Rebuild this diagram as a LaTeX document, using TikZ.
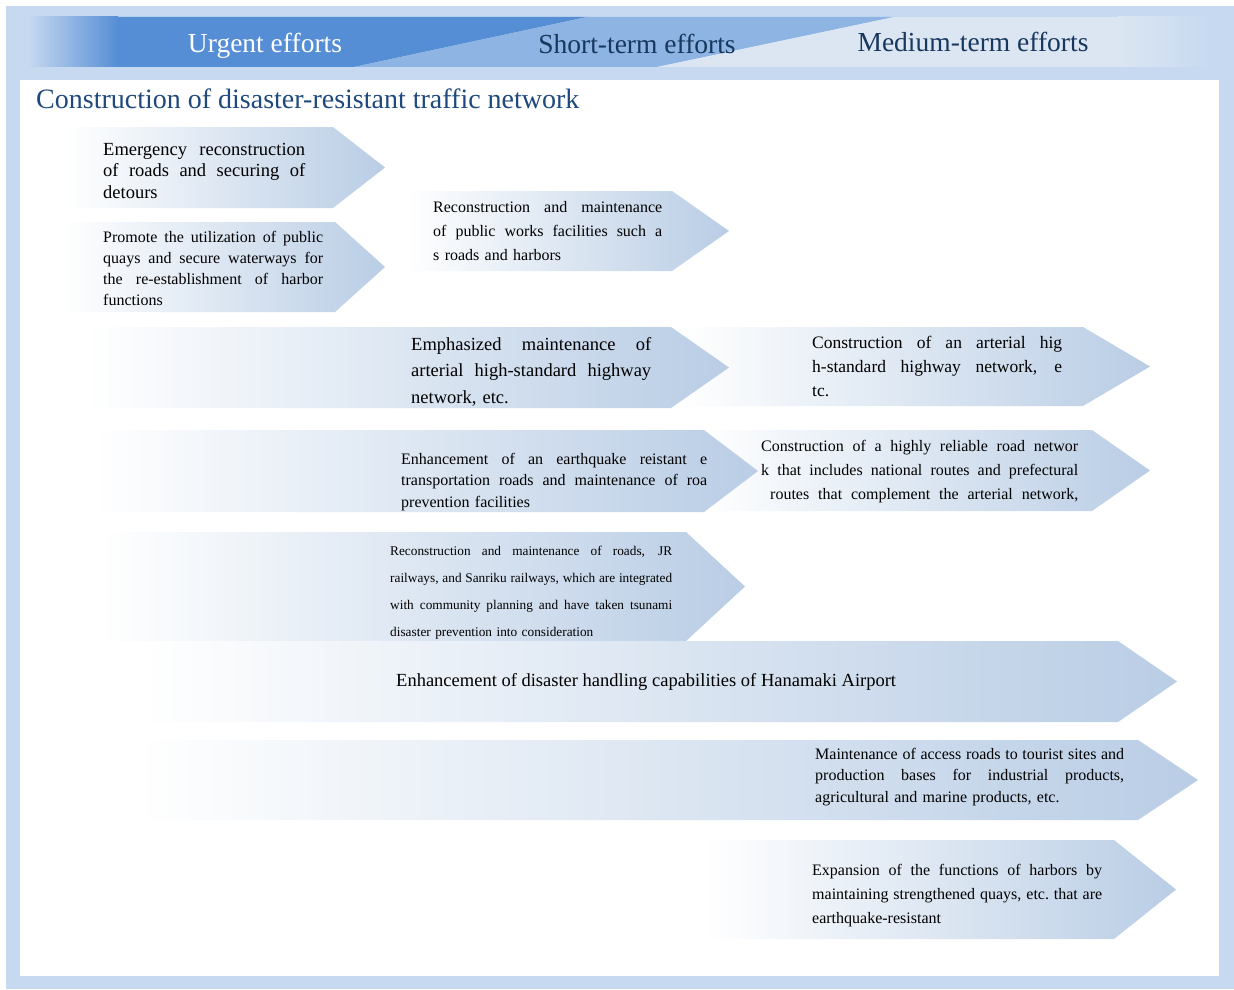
\documentclass[tikz,border=0pt]{standalone}
\usepackage{fontspec}
\setmainfont{Liberation Serif}
\usetikzlibrary{calc}
\definecolor{frameblue}{HTML}{C6D9F1}
\definecolor{headdark}{HTML}{558ED5}
\definecolor{headmid}{HTML}{8DB4E2}
\definecolor{headlight}{HTML}{DCE6F2}
\definecolor{arrowblue}{HTML}{B9CDE5}
\definecolor{titleblue}{HTML}{1F497D}
\definecolor{headtext}{HTML}{17375E}
\newlength\boxw
\def\chevron(#1:#2:#3)(#4:#5){\shade[left color=white, right color=arrowblue] (#1,#4) -- (#2,#4) -- (#3,{(#4+#5)/2}) -- (#2,#5) -- (#1,#5) -- cycle;}
\def\jline#1{\leavevmode\hbox to \boxw{\spaceskip=.25em plus 1fil\xspaceskip=.25em plus 1fil\relax #1}}

\begin{document}
\begin{tikzpicture}[x=1pt, y=-1pt,
	boxtext/.style={anchor=base west, inner sep=0pt, align=left, text=black, text width=#1, execute at begin node={\global\boxw=#1\relax}},
	headfont/.style={anchor=base, inner sep=0pt, font=\fontsize{27.5}{30}\selectfont}]
			%%%%% START %%%%%
			\useasboundingbox (0, 0) rectangle (1234, 990);
			\fill[white] (0, 0) rectangle (1234, 990);
			
			\fill[frameblue] (6, 6) rectangle (1234, 989);
			\fill[white] (20, 80) rectangle (1219, 976);
			
			% header band
			\shade[left color=frameblue, right color=headdark] (28, 17) rectangle (118, 67);
			\fill[headdark] (118, 17) -- (587, 17) -- (354, 67) -- (118, 67) -- cycle;
			\fill[headmid] (587, 17) -- (894, 17) -- (657, 67) -- (354, 67) -- cycle;
			\fill[headlight] (894, 17) -- (1118, 17) -- (1118, 67) -- (657, 67) -- cycle;
			\shade[left color=headlight, right color=frameblue] (1118, 17) rectangle (1212, 67);
			
			\node[headfont, text=white] (urgent) at (265, 53) {Urgent efforts};
			\node[headfont, text=headtext] (shortterm) at (637, 54) {Short-term efforts};
			\node[headfont, text=headtext] (mediumterm) at (973, 52) {Medium-term efforts};
			
			\node[anchor=base west, inner sep=0pt, text=titleblue, font=\fontsize{28}{30}\selectfont] (title) at (36, 108) {Construction of disaster-resistant traffic network};
			
			% urgent
			\chevron(65:333:385)(127:208);
			\node[boxtext=202pt, font=\fontsize{18.5}{21.5}\selectfont] (emergency) at (103, 155) {\jline{Emergency reconstruction}\\\jline{of roads and securing of}\\detours};
			
			\chevron(63:335:385)(222:312);
			\node[boxtext=220pt, font=\fontsize{16}{21.3}\selectfont] (quays) at (103, 242) {\jline{Promote the utilization of public}\\\jline{quays and secure waterways for}\\\jline{the re-establishment of harbor}\\functions};
			
			\chevron(405:672:729)(191:271);
			\node[boxtext=229pt, font=\fontsize{16}{24}\selectfont] (publicworks) at (433, 212) {\jline{Reconstruction and maintenance}\\\jline{of public works facilities such a}\\s roads and harbors};
			
			% short and medium
			\chevron(680:1083:1150)(327:406);
			\node[boxtext=250pt, font=\fontsize{17.5}{24}\selectfont] (highstandard) at (812, 348) {\jline{Construction of an arterial hig}\\\jline{h-standard highway network, e}\\tc.};
			
			\chevron(86:671:729)(327:408);
			\node[boxtext=240pt, font=\fontsize{18.5}{26.5}\selectfont] (arterial) at (411, 350) {\jline{Emphasized maintenance of}\\\jline{arterial high-standard highway}\\network, etc.};
			
			\chevron(700:1092:1150)(430:511);
			\node[boxtext=317pt, font=\fontsize{16}{24}\selectfont] (reliable) at (761, 451) {\jline{Construction of a highly reliable road networ}\\\jline{k that includes national routes and prefectural}\\\jline{\hspace*{9pt}routes that complement the arterial network,}};
			
			\chevron(93:704:758)(430:512);
			\node[boxtext=306pt, font=\fontsize{16}{21.5}\selectfont] (quakeroads) at (401, 464) {\jline{Enhancement of an earthquake reistant e}\\\jline{transportation roads and maintenance of roa}\\prevention facilities};
			
			\chevron(100:686:745)(532:641);
			\node[boxtext=282pt, font=\fontsize{13.3}{27}\selectfont] (railways) at (390, 555) {\jline{Reconstruction and maintenance of roads, JR}\\\jline{railways, and Sanriku railways, which are integrated}\\\jline{with community planning and have taken tsunami}\\disaster prevention into consideration};
			
			\chevron(140:1118:1177)(641:722);
			\node[anchor=base west, inner sep=0pt, font=\fontsize{18.5}{22}\selectfont] (airport) at (396, 686) {Enhancement of disaster handling capabilities of Hanamaki Airport};
			
			\chevron(135:1138:1198)(740:820);
			\node[boxtext=309pt, font=\fontsize{16}{21.5}\selectfont] (access) at (815, 759) {\jline{Maintenance of access roads to tourist sites and}\\\jline{production bases for industrial products,}\\agricultural and marine products, etc.};
			
			\chevron(705:1114:1176)(840:939);
			\node[boxtext=290pt, font=\fontsize{16}{24}\selectfont] (harbors) at (812, 875) {\jline{Expansion of the functions of harbors by}\\\jline{maintaining strengthened quays, etc. that are}\\earthquake-resistant};
			
			%%%%% END %%%%%
\end{tikzpicture}
\end{document}
